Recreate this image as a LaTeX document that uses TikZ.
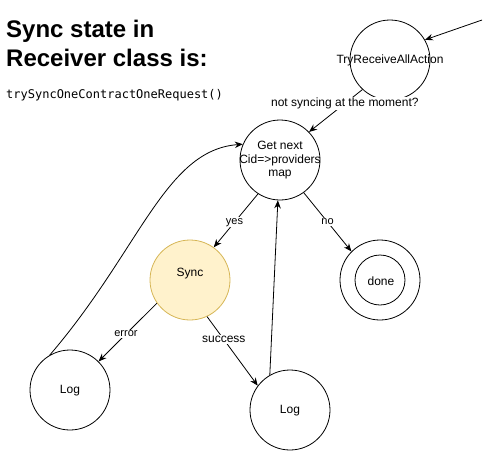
\documentclass[tikz,border=0pt]{standalone}
\usepackage{fontspec}
\setmainfont{Liberation Sans}
\newfontfamily\codefont{DejaVu Sans Mono}
\usetikzlibrary{arrows.meta}
\definecolor{syncfill}{HTML}{FFF2CC}
\definecolor{syncdraw}{HTML}{D6B656}
\begin{document}
\begin{tikzpicture}[x=1pt,y=-1pt,
  state/.style={draw=black,circle,minimum size=80pt,inner sep=0pt,line width=0.8pt},
  txt/.style={font=\fontsize{12}{13.5}\selectfont,align=center,inner sep=0pt},
  conn/.style={line width=0.8pt,-{Stealth[length=8pt,width=6.5pt]}},
  elab/.style={fill=white,inner sep=1pt,font=\fontsize{11}{13}\selectfont},
  elabb/.style={fill=white,inner sep=1pt,font=\fontsize{12}{14}\selectfont}]
\useasboundingbox (0,0) rectangle (491,451);
\node[anchor=base west,inner sep=0pt,font=\fontsize{24}{29}\selectfont\bfseries] (t1) at (6,37.5) {Sync state in};
\node[anchor=base west,inner sep=0pt,font=\fontsize{24}{29}\selectfont\bfseries] (t2) at (6,66.5) {Receiver class is:};
\node[anchor=base west,inner sep=0pt,font=\codefont\fontsize{12}{14}\selectfont] (t3) at (6,98) {trySyncOneContractOneRequest()};

\node[state] (tr) at (390,60) {};
\node[txt] (trt) at (390,60.5) {TryReceiveAllAction};
\node[state] (gn) at (280,160) {};
\node[txt] (gnt) at (280,160.5) {Get next\\Cid=>providers\\map};
\node[state,fill=syncfill,draw=syncdraw] (sy) at (190,280) {};
\node[txt] (syt) at (190,274) {Sync};
\node[state] (dn) at (380,280) {};
\node[draw=black,circle,minimum size=50pt,inner sep=0pt,line width=0.8pt] (dni) at (380,280) {};
\node[txt] (dnt) at (381,281) {done};
\node[state] (l1) at (70,390) {};
\node[txt] (l1t) at (70,391) {Log};
\node[state] (l2) at (290,410) {};
\node[txt] (l2t) at (290,411) {Log};

\coordinate (start) at (482,20);
\draw[conn] (start) -- (tr.30);
\draw[conn] (tr.227) -- node[elabb,pos=0.33] (lab1) {not syncing at the moment?} (gn.44);
\draw[conn] (gn.237) -- node[elab,pos=0.53] (lab2) {yes} (sy.54);
\draw[conn] (gn.306) -- node[elab,pos=0.5] (lab3) {no} (dn.135);
\draw[conn] (sy.215) -- node[elab,pos=0.53] (lab4) {error} (l1.45);
\draw[conn] (sy.295) -- node[elabb,pos=0.33] (lab5) {success} (l2.143);
\draw[conn] (l2.120) -- (gn.267);
\draw[conn] (l1.120) .. controls (140,250) and (165,150) .. (gn.157);
\end{tikzpicture}
\end{document}
